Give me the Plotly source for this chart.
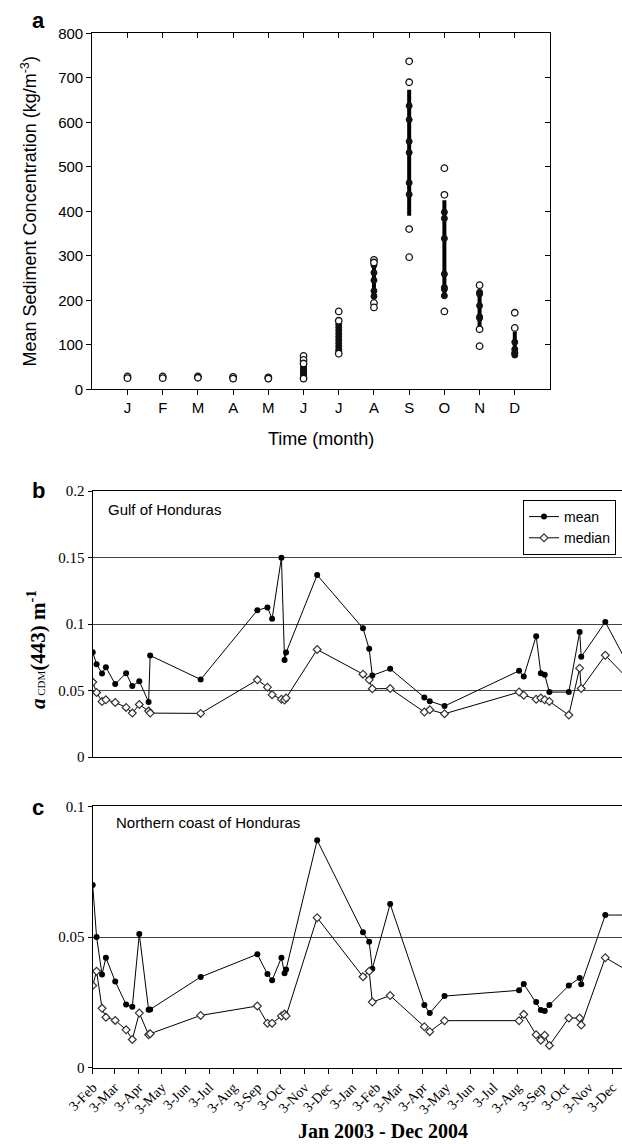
import plotly.graph_objects as go

# ---------------- Panel a data ----------------
month_labels = ["J", "F", "M", "A", "M", "J", "J", "A", "S", "O", "N", "D"]
month_pos = list(range(1, 13))

filled_pts = [
    [27, 28, 26],
    [27, 28, 26],
    [27, 28, 26],
    [26, 27, 25],
    [25, 26, 24],
    [54, 50, 46, 43, 40, 37, 34, 31, 29, 27],
    [146, 139, 132, 125, 118, 111, 104, 97, 90, 85],
    [279, 262, 245, 221, 209],
    [637, 606, 557, 532, 464, 438],
    [398, 384, 339, 259, 229, 225, 210],
    [218, 214, 188, 163, 160],
    [106, 90, 83, 80, 77],
]
open_pts = [
    [29, 25],
    [29, 25],
    [29, 26],
    [28, 24],
    [27, 24],
    [75, 66, 58, 24],
    [175, 154, 80],
    [291, 285, 194, 184],
    [737, 690, 360, 297],
    [497, 437, 175],
    [234, 135, 97],
    [172, 138],
]
bar_low = [26, 26, 26, 25, 24, 27, 83, 209, 390, 210, 137, 72]
bar_high = [28, 28, 28, 27, 26, 55, 148, 282, 673, 425, 219, 130]

# ---------------- Panels b, c data ----------------
dates = ["2003-02-03", "2003-02-08", "2003-02-15", "2003-02-20", "2003-03-04",
         "2003-03-18", "2003-03-26", "2003-04-04", "2003-04-16", "2003-04-18",
         "2003-06-22", "2003-09-03", "2003-09-16", "2003-09-22", "2003-10-04",
         "2003-10-08", "2003-10-10", "2003-11-19", "2004-01-17", "2004-01-25",
         "2004-01-29", "2004-02-21", "2004-04-05", "2004-04-12", "2004-05-01",
         "2004-08-05", "2004-08-11", "2004-08-27", "2004-09-02", "2004-09-07",
         "2004-09-13", "2004-10-08", "2004-10-22", "2004-10-24", "2004-11-24",
         "2004-12-28"]

gulf_mean = [0.0788, 0.0698, 0.0628, 0.0675, 0.0548, 0.063, 0.0533, 0.057, 0.0413, 0.0763,
             0.0583, 0.1103, 0.1125, 0.104, 0.1498, 0.073, 0.0785, 0.1368, 0.0968, 0.0813,
             0.0613, 0.0663, 0.0448, 0.042, 0.0383, 0.0648, 0.0605, 0.0908, 0.063, 0.0618,
             0.0488, 0.0488, 0.094, 0.0753, 0.1015, 0.0642]
gulf_median = [0.0563, 0.0485, 0.0418, 0.043, 0.041, 0.0373, 0.033, 0.0395, 0.0345, 0.033,
               0.0328, 0.058, 0.0525, 0.0468, 0.0435, 0.0428, 0.0443, 0.0808, 0.0623, 0.058,
               0.0513, 0.0515, 0.0338, 0.0355, 0.0325, 0.0488, 0.0465, 0.0435, 0.0443, 0.043,
               0.0418, 0.0315, 0.0668, 0.0515, 0.0765, 0.0558]
coast_mean = [0.0699, 0.05, 0.0357, 0.0421, 0.033, 0.0242, 0.0233, 0.0511, 0.0222, 0.0223,
              0.0347, 0.0434, 0.0358, 0.0335, 0.0421, 0.0361, 0.0376, 0.087, 0.0518, 0.0482,
              0.0379, 0.0626, 0.024, 0.0209, 0.0274, 0.0296, 0.032, 0.0251, 0.0221, 0.0217,
              0.024, 0.0314, 0.0343, 0.0319, 0.0584, 0.0584]
coast_median = [0.0314, 0.0369, 0.0227, 0.0193, 0.0181, 0.0145, 0.0108, 0.0209, 0.0126, 0.013,
                0.02, 0.0236, 0.017, 0.017, 0.0198, 0.0205, 0.0198, 0.0574, 0.0348, 0.0369,
                0.0251, 0.0276, 0.0157, 0.0138, 0.018, 0.018, 0.0204, 0.0126, 0.0105, 0.0124,
                0.0085, 0.019, 0.019, 0.0163, 0.0421, 0.0362]

gulf_ticks = [0, 0.05, 0.1, 0.15, 0.2]
gulf_ticktext = ["0", "0.05", "0.1", "0.15", "0.2"]
coast_ticks = [0, 0.05, 0.1]
coast_ticktext = ["0", "0.05", "0.1"]
sed_ticks = list(range(0, 801, 100))

W, H = 622, 1144
SANS = "Liberation Sans, Arial, sans-serif"
SERIF = "Liberation Serif, Times New Roman, serif"
date_range = ["2003-02-03", "2004-12-15 12:00"]

fig = go.Figure()

# ---- panel a traces ----
bx, by = [], []
for m, lo, hi in zip(month_pos, bar_low, bar_high):
    bx += [m, m, None]
    by += [lo, hi, None]
fig.add_trace(go.Scatter(x=bx, y=by, mode="lines", line=dict(color="black", width=4),
                         showlegend=False, hoverinfo="skip", xaxis="x", yaxis="y"))
fx, fy = [], []
for m, pts in zip(month_pos, filled_pts):
    fx += [m] * len(pts)
    fy += pts
fig.add_trace(go.Scatter(x=fx, y=fy, mode="markers",
                         marker=dict(symbol="circle", size=6, color="#111",
                                     line=dict(color="#111", width=1)),
                         showlegend=False, xaxis="x", yaxis="y", cliponaxis=False))
ox, oy = [], []
for m, pts in zip(month_pos, open_pts):
    ox += [m] * len(pts)
    oy += pts
fig.add_trace(go.Scatter(x=ox, y=oy, mode="markers",
                         marker=dict(symbol="circle", size=6.5, color="white",
                                     line=dict(color="#111", width=1.3)),
                         showlegend=False, xaxis="x", yaxis="y", cliponaxis=False))
# invisible trace for mirrored inside-tick axes
fig.add_trace(go.Scatter(x=month_pos, y=[None] * 12, mode="markers", showlegend=False,
                         hoverinfo="skip", xaxis="x4", yaxis="y4"))

# ---- panel b traces ----
line_style = dict(color="black", width=1)
mean_marker = dict(symbol="circle", size=6, color="black")
median_marker = dict(symbol="diamond", size=6, color="white",
                     line=dict(color="#333", width=1.2))
fig.add_trace(go.Scatter(x=dates, y=gulf_mean, mode="lines+markers", name="mean",
                         line=line_style, marker=mean_marker, xaxis="x2", yaxis="y2",
                         legendrank=1))
fig.add_trace(go.Scatter(x=dates, y=gulf_median, mode="lines+markers", name="median",
                         line=line_style, marker=median_marker, xaxis="x2", yaxis="y2",
                         legendrank=2))
# ---- panel c traces ----
fig.add_trace(go.Scatter(x=dates, y=coast_mean, mode="lines+markers", name="mean",
                         line=line_style, marker=mean_marker, xaxis="x3", yaxis="y3",
                         showlegend=False))
fig.add_trace(go.Scatter(x=dates, y=coast_median, mode="lines+markers", name="median",
                         line=line_style, marker=median_marker, xaxis="x3", yaxis="y3",
                         showlegend=False))

xa_dom = [92.3 / W, 550 / W]
xb_dom = [92.7 / W, 1.0]

def ydom(top_px, bot_px):
    return [1 - bot_px / H, 1 - top_px / H]

fig.update_layout(
    width=W, height=H,
    margin=dict(l=0, r=0, t=0, b=0, autoexpand=False),
    paper_bgcolor="white", plot_bgcolor="white",
    font=dict(family=SANS, color="black"),
    # panel a
    xaxis=dict(domain=xa_dom, range=[0, 13], anchor="y", tickmode="array",
               tickvals=month_pos, ticktext=month_labels, ticks="outside", ticklen=5,
               tickcolor="black", showline=True, linecolor="black", linewidth=1.2,
               showgrid=False, zeroline=False, automargin=False,
               tickfont=dict(family=SANS, size=15),
               title=dict(text="Time (month)", font=dict(family=SANS, size=18), standoff=16)),
    yaxis=dict(domain=ydom(33.3, 389.3), range=[0, 800], anchor="x", tickmode="array",
               tickvals=sed_ticks, ticks="outside", ticklen=5, tickcolor="black",
               showline=True, linecolor="black", linewidth=1.2, showgrid=False,
               zeroline=False, automargin=False, tickfont=dict(family=SANS, size=15),
               title=dict(text="Mean Sediment Concentration (kg/m<sup>-3</sup>)",
                          font=dict(family=SANS, size=18), standoff=16)),
    xaxis4=dict(overlaying="x", side="top", anchor="y4", range=[0, 13], tickmode="array",
                tickvals=month_pos, ticks="inside", ticklen=5, tickcolor="black",
                showticklabels=False, showline=True, linecolor="black", linewidth=1.2,
                showgrid=False, zeroline=False, automargin=False),
    yaxis4=dict(overlaying="y", side="right", anchor="x4", range=[0, 800], tickmode="array",
                tickvals=sed_ticks[1:], ticks="inside", ticklen=5, tickcolor="black",
                showticklabels=False, showline=True, linecolor="black", linewidth=1.2,
                showgrid=False, zeroline=False, automargin=False),
    # panel b
    xaxis2=dict(domain=xb_dom, type="date", range=date_range, anchor="y2",
                showline=True, mirror=True, linecolor="black", linewidth=1.2,
                ticks="", showticklabels=False, showgrid=False, zeroline=False,
                automargin=False),
    yaxis2=dict(domain=ydom(491, 757), range=[0, 0.2], anchor="x2", tickmode="array",
                tickvals=gulf_ticks, ticktext=gulf_ticktext, ticks="outside", ticklen=4,
                tickcolor="black", showline=True, linecolor="black", linewidth=1.2,
                showgrid=True, gridcolor="#444", gridwidth=1, zeroline=False,
                automargin=False, tickfont=dict(family=SERIF, size=15)),
    # panel c
    xaxis3=dict(domain=xb_dom, type="date", range=date_range, anchor="y3",
                tickmode="linear", tick0="2003-02-03", dtick="M1", tickformat="%-d-%b",
                tickangle=-45, ticks="outside", ticklen=5, tickcolor="black",
                showline=True, mirror=True, linecolor="black", linewidth=1.2,
                showgrid=False, zeroline=False, automargin=False,
                tickfont=dict(family=SERIF, size=14)),
    yaxis3=dict(domain=ydom(806.3, 1067.7), range=[0, 0.1], anchor="x3", tickmode="array",
                tickvals=coast_ticks, ticktext=coast_ticktext, ticks="outside", ticklen=4,
                tickcolor="black", showline=True, linecolor="black", linewidth=1.2,
                showgrid=True, gridcolor="#444", gridwidth=1, zeroline=False,
                automargin=False, tickfont=dict(family=SERIF, size=15)),
    legend=dict(x=523 / W, y=1 - 500 / H, xanchor="left", yanchor="top",
                xref="container", yref="container",
                bgcolor="white", bordercolor="black", borderwidth=1,
                font=dict(family=SANS, size=14), tracegroupgap=0),
    showlegend=True,
)

ann = [
    dict(text="<b>a</b>", x=38 / W, y=1 - 20 / H, font=dict(family=SANS, size=22)),
    dict(text="<b>b</b>", x=38 / W, y=1 - 490 / H, font=dict(family=SANS, size=22)),
    dict(text="<b>c</b>", x=38 / W, y=1 - 807 / H, font=dict(family=SANS, size=22)),
    dict(text="Gulf of Honduras", x=106 / W, y=1 - 509 / H, xanchor="left",
         font=dict(family=SANS, size=15)),
    dict(text="Northern coast of Honduras", x=114 / W, y=1 - 822 / H, xanchor="left",
         font=dict(family=SANS, size=15)),
    dict(text="<b><i>a</i></b><span style='font-size:11px'> CDM</span><b>(443) m<sup>-1</sup></b>",
         x=36 / W, y=1 - 650 / H, textangle=-90, font=dict(family=SERIF, size=21)),
    dict(text="<b>Jan 2003 - Dec 2004</b>", x=383 / W, y=1 - 1131 / H,
         font=dict(family=SERIF, size=20)),
]
for a in ann:
    a.update(xref="paper", yref="paper", showarrow=False)
    a.setdefault("xanchor", "center")
    a.setdefault("yanchor", "middle")
fig.update_layout(annotations=ann)

fig.write_html(
    "out.html",
    config={"displayModeBar": False},
    post_script=("document.body.style.margin='0px';"
                 "document.documentElement.style.overflow='hidden';"
                 "document.body.style.overflow='hidden';"),
)
